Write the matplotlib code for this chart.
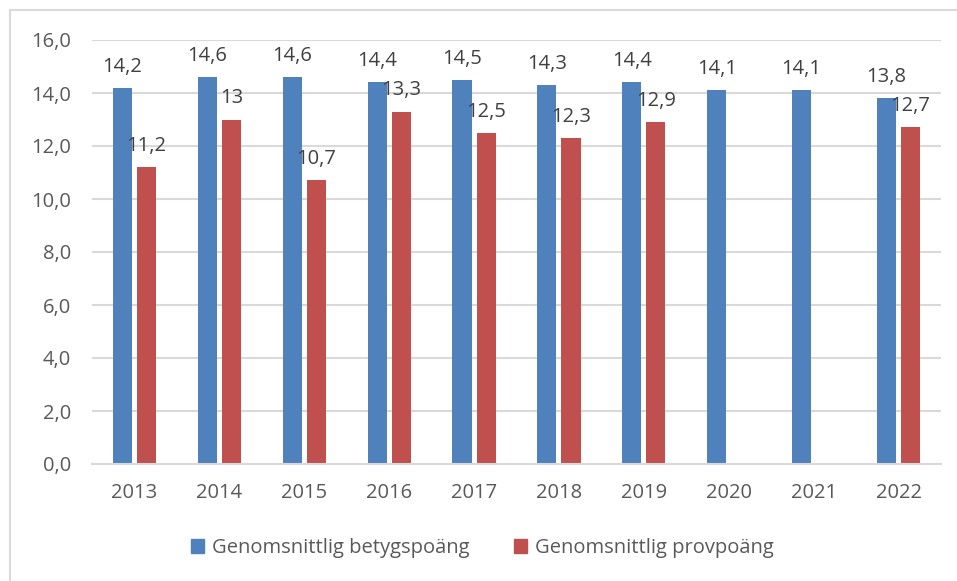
import matplotlib
matplotlib.use("Agg")
import matplotlib.pyplot as plt
from matplotlib.lines import Line2D
from matplotlib.patches import Patch
import numpy as np

years = ["2013", "2014", "2015", "2016", "2017", "2018", "2019", "2020", "2021", "2022"]
betyg = [14.2, 14.6, 14.6, 14.4, 14.5, 14.3, 14.4, 14.1, 14.1, 13.8]
prov = [11.2, 13.0, 10.7, 13.3, 12.5, 12.3, 12.9, None, None, 12.7]
betyg_labels = ["14,2", "14,6", "14,6", "14,4", "14,5", "14,3", "14,4", "14,1", "14,1", "13,8"]
prov_labels = ["11,2", "13", "10,7", "13,3", "12,5", "12,3", "12,9", "", "", "12,7"]
yticks = [0, 2, 4, 6, 8, 10, 12, 14, 16]
ytick_labels = ["0,0", "2,0", "4,0", "6,0", "8,0", "10,0", "12,0", "14,0", "16,0"]
series_names = ["Genomsnittlig betygspoäng", "Genomsnittlig provpoäng"]

blue = "#4F81BD"
red = "#C0504D"
txt = "#595959"
grid = "#D9D9D9"
fs = 14.5

plt.rcParams['font.family'] = ['Open Sans', 'DejaVu Sans']

W, H = 957, 581
fig = plt.figure(figsize=(W / 100, H / 100), dpi=100)
ax = fig.add_axes([92 / W, 1 - 464 / H, (941 - 92) / W, (464 - 40) / H])

x = np.arange(len(years))
bw = 0.225
off = 0.142
for i in range(len(years)):
    ax.bar(x[i] - off, betyg[i], width=bw, color=blue, zorder=3)
    ax.annotate(betyg_labels[i], (x[i] - off, betyg[i]), xytext=(0, 8),
                textcoords="offset points", ha="center", va="bottom",
                fontsize=fs, color="#404040")
    if prov[i] is not None:
        ax.bar(x[i] + off, prov[i], width=bw, color=red, zorder=3)
        ax.annotate(prov_labels[i], (x[i] + off, prov[i]), xytext=(0, 8),
                    textcoords="offset points", ha="center", va="bottom",
                    fontsize=fs, color="#404040")

ax.set_xlim(-0.5, len(years) - 0.5)
ax.set_ylim(0, 16)
ax.set_yticks(yticks)
ax.set_yticklabels(ytick_labels)
ax.set_xticks(x)
ax.set_xticklabels(years)
ax.tick_params(axis="both", length=0, labelsize=fs, labelcolor=txt)
ax.tick_params(axis="y", pad=15)
ax.tick_params(axis="x", pad=14)
ax.yaxis.grid(True, color=grid, linewidth=1.5, zorder=0)
for s in ["top", "right", "left"]:
    ax.spines[s].set_visible(False)
ax.spines["bottom"].set_color(grid)
ax.spines["bottom"].set_linewidth(1.5)
ax.spines["bottom"].set_zorder(4)

handles = [Patch(color=blue), Patch(color=red)]
fig.legend(handles, series_names, loc="center", bbox_to_anchor=(482 / W, 1 - 548 / H),
           ncol=2, frameon=False, fontsize=fs, labelcolor=txt,
           handlelength=0.65, handleheight=0.65, handletextpad=0.4, columnspacing=2.2)

fig.add_artist(Line2D([10 / W, 10 / W], [0, 1 - 10 / H], transform=fig.transFigure,
                      color=grid, linewidth=1.5))
fig.add_artist(Line2D([10 / W, 1], [1 - 10 / H, 1 - 10 / H], transform=fig.transFigure,
                      color=grid, linewidth=1.5))

fig.savefig("out.png", dpi=100)
